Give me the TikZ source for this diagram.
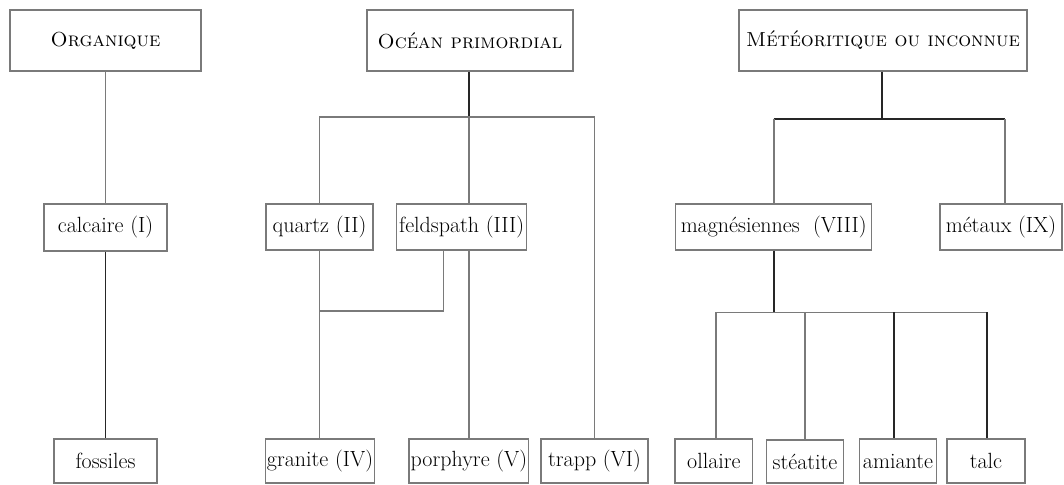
\documentclass[tikz,border=0pt]{standalone}
\usepackage{fontspec}
\begin{document}
\begin{tikzpicture}[x=1pt,y=-1pt,
  box/.style={draw=boxgray,line width=1.4pt,inner sep=0pt,minimum height=#1,font=\fontsize{22}{26}\selectfont},
  box/.default=46,
  topbox/.style={box=61,font=\fontsize{20.3}{24}\selectfont},
  gline/.style={draw=linegray,line width=1.6pt},
  bline/.style={draw=lineblack,line width=1.6pt}]
\definecolor{boxgray}{HTML}{7A7A7A}
\definecolor{linegray}{HTML}{7A7A7A}
\definecolor{lineblack}{HTML}{262626}
\useasboundingbox (0,0) rectangle (1064,484);
% top row
\node[topbox,minimum width=191] (org) at (105.5,40.5) {\textsc{Organique}};
\node[topbox,minimum width=206] (ocean) at (470,40.5) {\textsc{Océan primordial}};
\node[topbox,minimum width=288] (meteo) at (883,40.5) {\textsc{Météoritique ou inconnue}};
% middle row
\node[box=47,minimum width=123] (calc) at (105.5,227.5) {calcaire (I)};
\node[box,minimum width=107] (quartz) at (319.5,227) {quartz (II)};
\node[box,minimum width=130] (feld) at (461.7,227) {feldspath (III)};
\node[box,minimum width=196] (magn) at (773.7,227) {magnésiennes~ (VIII)};
\node[box,minimum width=122] (metaux) at (1001,227) {métaux (IX)};
% bottom row
\node[box=44,minimum width=103] (foss) at (105.5,461) {fossiles};
\node[box=44,minimum width=108.6] (granite) at (320,461) {granite (IV)};
\node[box=44,minimum width=119.7] (porph) at (468.9,461) {porphyre (V)};
\node[box=44,minimum width=107] (trapp) at (594.5,461) {trapp (VI)};
\node[box=44,minimum width=77.7] (ollaire) at (713.9,461) {ollaire};
\node[box=43,minimum width=76.6] (steat) at (805,461.5) {\raisebox{-1.5pt}{stéatite}};
\node[box=44,minimum width=77.4] (amiante) at (898,461) {amiante};
\node[box=44,minimum width=77.7] (talc) at (986,461) {talc};
% organique
\draw[gline] (org.south) -- (calc.north);
\draw[bline] (calc.south) -- (foss.north);
% ocean
\coordinate (oj) at (469,117);
\draw[bline] (oj |- ocean.south) -- (oj);
\draw[gline] (quartz.north) |- (oj) -| (trapp.north);
\draw[gline] (oj) -- (oj |- feld.north);
\draw[gline] (quartz.south) -- (quartz.south |- granite.north);
\coordinate (fk) at (443.3,310.7);
\draw[gline] (fk |- feld.south) -- (fk) -- (fk -| quartz.south);
\draw[gline] (oj |- feld.south) -- (oj |- porph.north);
% meteoritique
\coordinate (mj) at (882,119);
\coordinate (mr) at (1005,119);
\draw[bline] (mj |- meteo.south) -- (mj);
\draw[bline] (mj -| magn.north) -- (mr);
\draw[gline] (mj -| magn.north) -- (magn.north);
\draw[gline] (mr) -- (mr |- metaux.north);
\coordinate (bj) at (774,312.3);
\coordinate (bl) at (715.7,312.3);
\coordinate (bs) at (805,312.3);
\coordinate (ba) at (893.7,312.3);
\coordinate (br) at (986.7,312.3);
\draw[bline] (bj |- magn.south) -- (bj);
\draw[gline] (bl) -- (br);
\draw[gline] (bl) -- (bl |- ollaire.north);
\draw[gline] (bs) -- (bs |- steat.north);
\draw[bline] (ba) -- (ba |- amiante.north);
\draw[bline] (br) -- (br |- talc.north);
\end{tikzpicture}
\end{document}
